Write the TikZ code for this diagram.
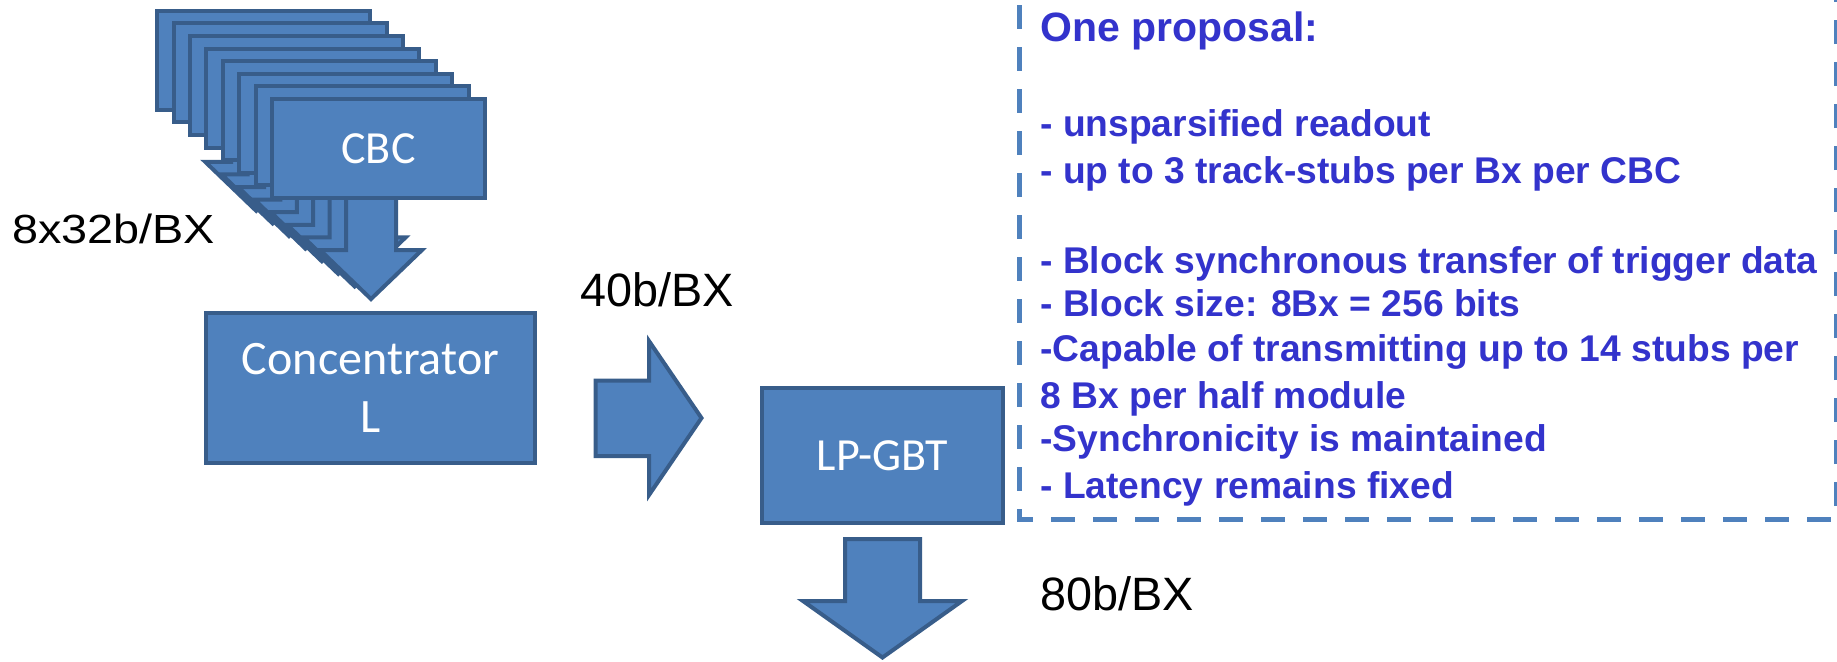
\documentclass[tikz,border=0pt]{standalone}
\usepackage{graphicx}
\usepackage{fontspec}
\setmainfont{Liberation Sans}
\newfontfamily\carlito{Carlito}
\definecolor{boxfill}{RGB}{79,129,189}
\definecolor{boxline}{RGB}{56,93,138}
\definecolor{notetext}{RGB}{51,51,204}
\begin{document}
\begin{tikzpicture}[x=0.5pt,y=-0.5pt,
  blk/.style={fill=boxfill,draw=boxline,line width=2pt,line join=miter},
  box/.style={blk,rectangle,inner sep=0pt,text=white,align=center,
    font=\carlito\fontsize{23pt}{28.85pt}\selectfont},
  rate/.style={anchor=base west,inner sep=0pt,text=black,
    font=\fontsize{23.4pt}{28pt}\selectfont},
  note/.style={anchor=base west,inner sep=0pt,text=notetext,
    font=\bfseries\fontsize{18.6pt}{22pt}\selectfont},
  dashbox/.style={draw=boxfill,line width=2.5pt,dash pattern=on 12pt off 9pt},
]
\useasboundingbox (0,0) rectangle (1837,661);
\clip (0,0) rectangle (1837,661);

% stack of CBC chips, each with its own output arrow, drawn back to front
\foreach \k in {7,...,1}{
  \begin{scope}[shift={(-16.4*\k,-12.6*\k)}]
    \draw[blk] (346,190) -- (396,190) -- (396,250) -- (422,250) -- (371,299)
      -- (320,250) -- (346,250) -- cycle;
    \draw[blk] (272,99) rectangle (485,198);
  \end{scope}
}
\draw[blk] (346,190) -- (396,190) -- (396,250) -- (422,250) -- (371,299)
  -- (320,250) -- (346,250) -- cycle;
\node[box,minimum width=106.5pt,minimum height=49.5pt] (cbc) at (378.5,148.5) {CBC};

% concentrator and LP-GBT
\node[box,minimum width=164.5pt,minimum height=75pt,
  font=\carlito\fontsize{24pt}{28.85pt}\selectfont] (conc) at (370.5,388) {Concentrator\\L};
\node[box,minimum width=120.5pt,minimum height=67.5pt] (lpgbt) at (882.5,455.5) {LP-GBT};

% block arrows
\draw[blk] (595.5,380.5) -- (649,380.5) -- (649,341) -- (701.5,418) -- (649,495)
  -- (649,456) -- (595.5,456) -- cycle;
\draw[blk] (845,539) -- (920,539) -- (920,601) -- (962,601) -- (882.5,657.5)
  -- (803,601) -- (845,601) -- cycle;

% data rates
\node[rate] (rin) at (11.7,243.3) {\scalebox{1}[0.87]{8x32b/BX}};
\node[rate] (rmid) at (580,306.5) {40b/BX};
\node[rate] (rout) at (1040,610.7) {80b/BX};

% proposal box
\draw[dashbox] (1019,5) -- (1019,519) -- (1836,519) -- (1836,-30);
\node[note,font=\bfseries\fontsize{20.5pt}{24pt}\selectfont] (title) at (1040,41.7) {One proposal:};
\node[note] (p1) at (1040,136.7) {- unsparsified readout};
\node[note] (p2) at (1040,183) {- up to 3 track-stubs per Bx per CBC};
\node[note] (p3) at (1040,273.3) {- Block synchronous transfer of trigger data};
\node[note] (p4) at (1040,316.7) {- Block size: 8Bx = 256 bits};
\node[note] (p5) at (1040,361.7) {-Capable of transmitting up to 14 stubs per};
\node[note] (p6) at (1040,408.3) {8 Bx per half module};
\node[note] (p7) at (1040,451.7) {-Synchronicity is maintained};
\node[note] (p8) at (1040,498.3) {- Latency remains fixed};
\end{tikzpicture}
\end{document}
